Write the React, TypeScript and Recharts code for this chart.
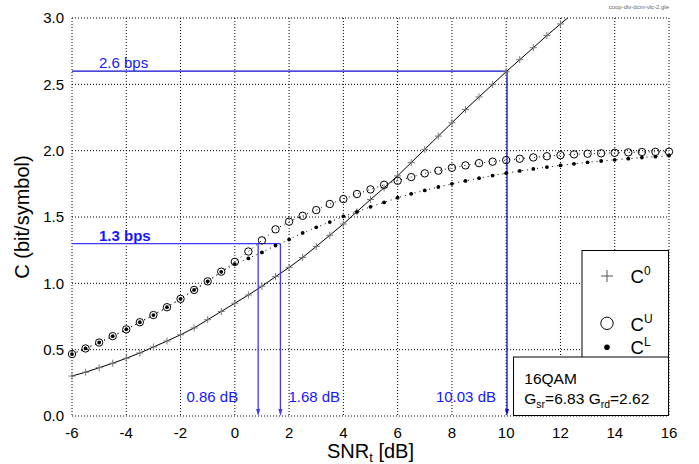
import React from 'react'
import { CartesianGrid, Label, Legend, Line, LineChart, ReferenceLine, XAxis, YAxis } from 'recharts'

const snr = [
    -6, -5.5, -5, -4.5, -4, -3.5, -3, -2.5, -2, -1.5, -1, -0.5, 0, 0.5, 1, 1.5, 2, 2.5, 3, 3.5, 4, 4.5,
    5, 5.5, 6, 6.5, 7, 7.5, 8, 8.5, 9, 9.5, 10, 10.5, 11, 11.5, 12, 12.5, 13, 13.5, 14, 14.5, 15, 15.5, 16,
]
const c0 = [
    0.301, 0.33, 0.364, 0.398, 0.435, 0.475, 0.52, 0.565, 0.612, 0.664, 0.726, 0.788, 0.85, 0.912, 0.978,
    1.05, 1.12, 1.195, 1.278, 1.362, 1.447, 1.54, 1.632, 1.72, 1.81, 1.91, 2.01, 2.11, 2.21, 2.31, 2.405,
    2.5, 2.595, 2.686, 2.776, 2.868, 2.955, 3.04, null, null, null, null, null, null, null,
]
const cu = [
    0.467, 0.509, 0.554, 0.602, 0.653, 0.707, 0.761, 0.82, 0.883, 0.95, 1.015, 1.088, 1.162, 1.24, 1.324,
    1.407, 1.465, 1.509, 1.552, 1.598, 1.635, 1.673, 1.708, 1.743, 1.773, 1.801, 1.829, 1.849, 1.871, 1.889,
    1.906, 1.917, 1.929, 1.939, 1.949, 1.958, 1.966, 1.972, 1.977, 1.98, 1.984, 1.987, 1.99, 1.991, 1.992,
]
const cl = [
    0.467, 0.509, 0.554, 0.602, 0.653, 0.707, 0.761, 0.82, 0.883, 0.95, 1.015, 1.087, 1.145, 1.188, 1.233,
    1.285, 1.33, 1.38, 1.422, 1.462, 1.505, 1.538, 1.577, 1.61, 1.645, 1.675, 1.7, 1.726, 1.75, 1.772, 1.793,
    1.812, 1.83, 1.847, 1.862, 1.876, 1.889, 1.901, 1.912, 1.922, 1.931, 1.94, 1.948, 1.955, 1.962,
]

const xTicks = [-6, -4, -2, 0, 2, 4, 6, 8, 10, 12, 14, 16]
const yTicks = [0, 0.5, 1, 1.5, 2, 2.5, 3]

// rate targets and where the curves reach them
const rateLevels = [2.6, 1.3]
const rateLabels = ['2.6 bps', '1.3 bps']
const rateEnds = [10.03, 1.68]
const crossSnr = [0.86, 1.68, 10.03]
const crossRate = [1.3, 1.3, 2.6]
const crossLabels = ['0.86 dB', '1.68 dB', '10.03 dB']

const FONT = '"Liberation Sans", Arial, Helvetica, sans-serif'
const DARK_BLUE = '#0a0ad0'
const LIGHT_BLUE = '#3a3aff'
const TEXT_BLUE = '#1616ff'

const data = snr.map((s, i) => ({ snr: s, c0: c0[i], cu: cu[i], cl: cl[i] }))

const PlusDot = (props: any) => {
    const { cx, cy, key } = props
    if (cx == null || cy == null) return <g key={key} />
    return (
        <path key={key} d={`M${cx - 3.5},${cy}H${cx + 3.5}M${cx},${cy - 3.5}V${cy + 3.5}`} stroke="#777" strokeWidth={1} />
    )
}
const RingDot = (props: any) => {
    const { cx, cy, key } = props
    if (cx == null || cy == null) return <g key={key} />
    return <circle key={key} cx={cx} cy={cy} r={3.7} fill="none" stroke="#000" strokeWidth={1} />
}
const FillDot = (props: any) => {
    const { cx, cy, key } = props
    if (cx == null || cy == null) return <g key={key} />
    return <circle key={key} cx={cx} cy={cy} r={1.9} fill="#000" />
}

const rateShape = (i: number) => (props: any) => {
    const { x1, y1, x2, y2 } = props
    return (
        <g>
            <line x1={x1} y1={y1} x2={x2} y2={y2} stroke={i === 0 ? DARK_BLUE : LIGHT_BLUE} strokeWidth={1.3} />
            <text x={x1 + 27} y={y1 - 3} fill={TEXT_BLUE} fontSize={15} fontFamily={FONT} fontWeight={i === 1 ? 'bold' : 'normal'}>
                {rateLabels[i]}
            </text>
        </g>
    )
}

const dropShape = (i: number) => (props: any) => {
    const { x1, y1, x2, y2 } = props
    const top = Math.min(y1, y2)
    const bottom = Math.max(y1, y2)
    const left = i !== 1
    const tx = left ? x1 - (i === 0 ? 20 : 11) : x1 + 8
    return (
        <g>
            <line x1={x1} y1={top} x2={x2} y2={bottom - 6} stroke={i === 2 ? DARK_BLUE : LIGHT_BLUE} strokeWidth={1.3} />
            <path d={`M${x1 - 2},${bottom - 7}L${x1 + 2},${bottom - 7}L${x1},${bottom}Z`} fill={i === 2 ? DARK_BLUE : LIGHT_BLUE} />
            <text x={tx} y={bottom - 14.5} textAnchor={left ? 'end' : 'start'} fill={TEXT_BLUE} fontSize={15} fontFamily={FONT}>
                {crossLabels[i]}
            </text>
        </g>
    )
}

const renderXLabel = (props: any) => {
    const { viewBox } = props
    const cx = viewBox.x + viewBox.width / 2
    return (
        <text x={cx} y={457.5} textAnchor="middle" fontSize={20} fontFamily={FONT} fill="#000">
            <tspan>SNR</tspan>
            <tspan fontSize={13} dy={4}>t</tspan>
            <tspan dy={-4}> [dB]</tspan>
        </text>
    )
}

const renderYLabel = () => (
    <text x={0} y={0} transform="translate(29,217) rotate(-90)" textAnchor="middle" fontSize={20} fontFamily={FONT} fill="#000">
        C (bit/symbol)
    </text>
)

const legendItems = ['0', 'U', 'L']

const renderLegend = () => (
    <svg width={156} height={166} style={{ display: 'block', overflow: 'visible' }} fontFamily={FONT}>
        <rect x={69} y={0.5} width={86.5} height={107} fill="#fff" stroke="#000" />
        <path d="M88,26H100M94,20V32" stroke="#555" strokeWidth={1} />
        <circle cx={94} cy={73.3} r={6.2} fill="none" stroke="#000" strokeWidth={1} />
        <circle cx={94} cy={97.3} r={2.8} fill="#000" />
        {legendItems.map((s, i) => (
            <text key={s} x={117.5} y={[32.7, 80.7, 104][i]} fontSize={18.5} fill="#000">
                C<tspan fontSize={12} dy={-8}>{s}</tspan>
            </text>
        ))}
        <rect x={0.5} y={107} width={155} height={58.5} fill="#fff" stroke="#000" />
        <text x={11.3} y={134.3} fontSize={15.5} fill="#000">16QAM</text>
        <text x={11.3} y={154.3} fontSize={15.5} fill="#000">
            G<tspan fontSize={10.5} dy={4}>sr</tspan>
            <tspan dy={-4}>=6.83 G</tspan>
            <tspan fontSize={10.5} dy={4}>rd</tspan>
            <tspan dy={-4}>=2.62</tspan>
        </text>
    </svg>
)

export default function App() {
    return (
        <div style={{ position: 'absolute', left: 0, top: 0, width: 699, height: 464, background: '#fff' }}>
            <LineChart width={699} height={464} data={data} margin={{ top: 18, right: 30, bottom: 0, left: 0 }}>
                <CartesianGrid stroke="#000" strokeDasharray="1 2" />
                <XAxis
                    type="number"
                    dataKey="snr"
                    domain={[-6, 16]}
                    ticks={xTicks}
                    height={48}
                    axisLine={false}
                    tickLine={false}
                    tickMargin={5}
                    tick={{ fontSize: 15, fill: '#000', fontFamily: FONT }}
                >
                    <Label content={renderXLabel} />
                </XAxis>
                <YAxis
                    type="number"
                    domain={[0, 3]}
                    ticks={yTicks}
                    allowDataOverflow
                    width={72}
                    axisLine={false}
                    tickLine={false}
                    tickFormatter={(v: number) => v.toFixed(1)}
                    tick={{ fontSize: 15, fill: '#000', fontFamily: FONT }}
                >
                    <Label content={renderYLabel} />
                </YAxis>
                <Line dataKey="c0" stroke="#000" strokeWidth={1} dot={PlusDot} isAnimationActive={false} connectNulls={false} />
                <Line dataKey="cu" stroke="#000" strokeWidth={1} strokeDasharray="1 4" dot={RingDot} isAnimationActive={false} />
                <Line dataKey="cl" stroke="#000" strokeWidth={1} strokeDasharray="1 4" dot={FillDot} isAnimationActive={false} />
                {rateLevels.map((r, i) => (
                    <ReferenceLine
                        key={'r' + i}
                        segment={[{ x: -6, y: r }, { x: rateEnds[i], y: r }]}
                        ifOverflow="visible"
                        shape={rateShape(i)}
                    />
                ))}
                {crossSnr.map((s, i) => (
                    <ReferenceLine
                        key={'d' + i}
                        segment={[{ x: s, y: crossRate[i] }, { x: s, y: 0 }]}
                        ifOverflow="visible"
                        shape={dropShape(i)}
                    />
                ))}
                <Legend
                    layout="horizontal"
                    verticalAlign="middle"
                    align="center"
                    content={renderLegend}
                    wrapperStyle={{ left: 513, top: 250, width: 156, height: 166 }}
                />
            </LineChart>
            <span style={{ position: 'absolute', right: 30, top: 4, fontSize: 6, color: '#666', fontFamily: FONT }}>
                coop-div-dcm-vlc-2.gle
            </span>
        </div>
    )
}
